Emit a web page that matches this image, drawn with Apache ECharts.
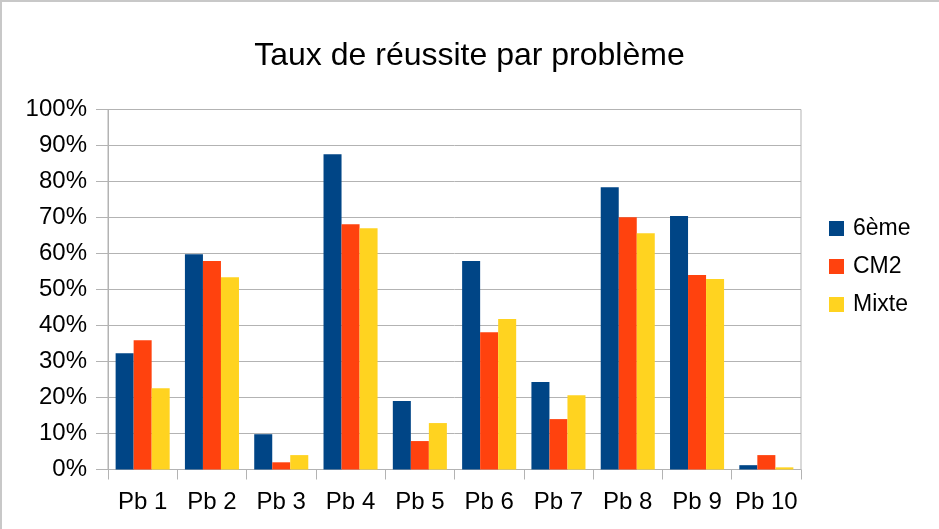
<!DOCTYPE html>
<html>
<head>
<meta charset="utf-8">
<script src="https://cdn.jsdelivr.net/npm/echarts@6/dist/echarts.min.js"></script>
<style>
html,body{margin:0;padding:0;background:#fff;}
#c{width:939px;height:529px;}
</style>
</head>
<body>
<div id="c"></div>
<script>
const categories = ['Pb 1','Pb 2','Pb 3','Pb 4','Pb 5','Pb 6','Pb 7','Pb 8','Pb 9','Pb 10'];
const seriesNames = ['6ème','CM2','Mixte'];
const sixieme = [32.3, 59.8, 9.8, 87.6, 19.0, 57.9, 24.3, 78.4, 70.4, 1.2];
const cm2     = [35.9, 57.9, 2.0, 68.1, 7.9, 38.1, 14.0, 70.1, 54.0, 4.0];
const mixte   = [22.6, 53.4, 4.0, 67.0, 12.9, 41.8, 20.6, 65.6, 52.9, 0.6];
const colors = ['#004586','#ff420e','#ffd320'];
const yTicks = {min: 0, max: 100, interval: 10};

const font = '"Liberation Sans", Arial, sans-serif';
const chart = echarts.init(document.getElementById('c'), null, {renderer:'canvas'});
const dataSets = [sixieme, cm2, mixte];
chart.setOption({
  animation: false,
  backgroundColor: '#ffffff',
  title: {
    text: 'Taux de réussite par problème',
    left: 'center', top: 35,
    textStyle: {fontFamily: font, fontSize: 32, fontWeight: 'normal', color: '#000'}
  },
  legend: {
    orient: 'vertical', left: 824, top: 212, padding: 5,
    itemWidth: 15, itemHeight: 15, itemGap: 15,
    icon: 'rect',
    data: seriesNames,
    textStyle: {fontFamily: font, fontSize: 23, color: '#000', padding: [0,0,0,4]}
  },
  grid: {left: 108, right: 138, top: 109.5, bottom: 59.5, show: true, borderColor: '#b3b3b3', borderWidth: 1},
  xAxis: {
    type: 'category', data: categories, boundaryGap: true,
    axisLine: {show: true, lineStyle: {color: '#b3b3b3', width: 1}},
    axisTick: {show: true, length: 10, lineStyle: {color: '#b3b3b3'}},
    axisLabel: {fontFamily: font, fontSize: 24, color: '#000', margin: 21, interval: 0}
  },
  yAxis: {
    type: 'value', min: yTicks.min, max: yTicks.max, interval: yTicks.interval,
    axisLine: {show: true, lineStyle: {color: '#b3b3b3', width: 1}},
    axisTick: {show: true, length: 12, lineStyle: {color: '#b3b3b3'}},
    splitLine: {show: true, lineStyle: {color: '#b3b3b3', width: 1}},
    axisLabel: {fontFamily: font, fontSize: 24, color: '#000', margin: 21, formatter: '{value}%'}
  },
  series: seriesNames.map((n, i) => ({
    name: n, type: 'bar', data: dataSets[i],
    itemStyle: {color: colors[i]},
    barGap: '0%', barCategoryGap: '22%'
  })),
  graphic: [
    {type: 'rect', left: 0, top: 0, shape: {width: 939, height: 2}, style: {fill: '#c8c8c8'}},
    {type: 'rect', left: 0, top: 0, shape: {width: 2, height: 529}, style: {fill: '#c8c8c8'}}
  ]
});
</script>
</body>
</html>
